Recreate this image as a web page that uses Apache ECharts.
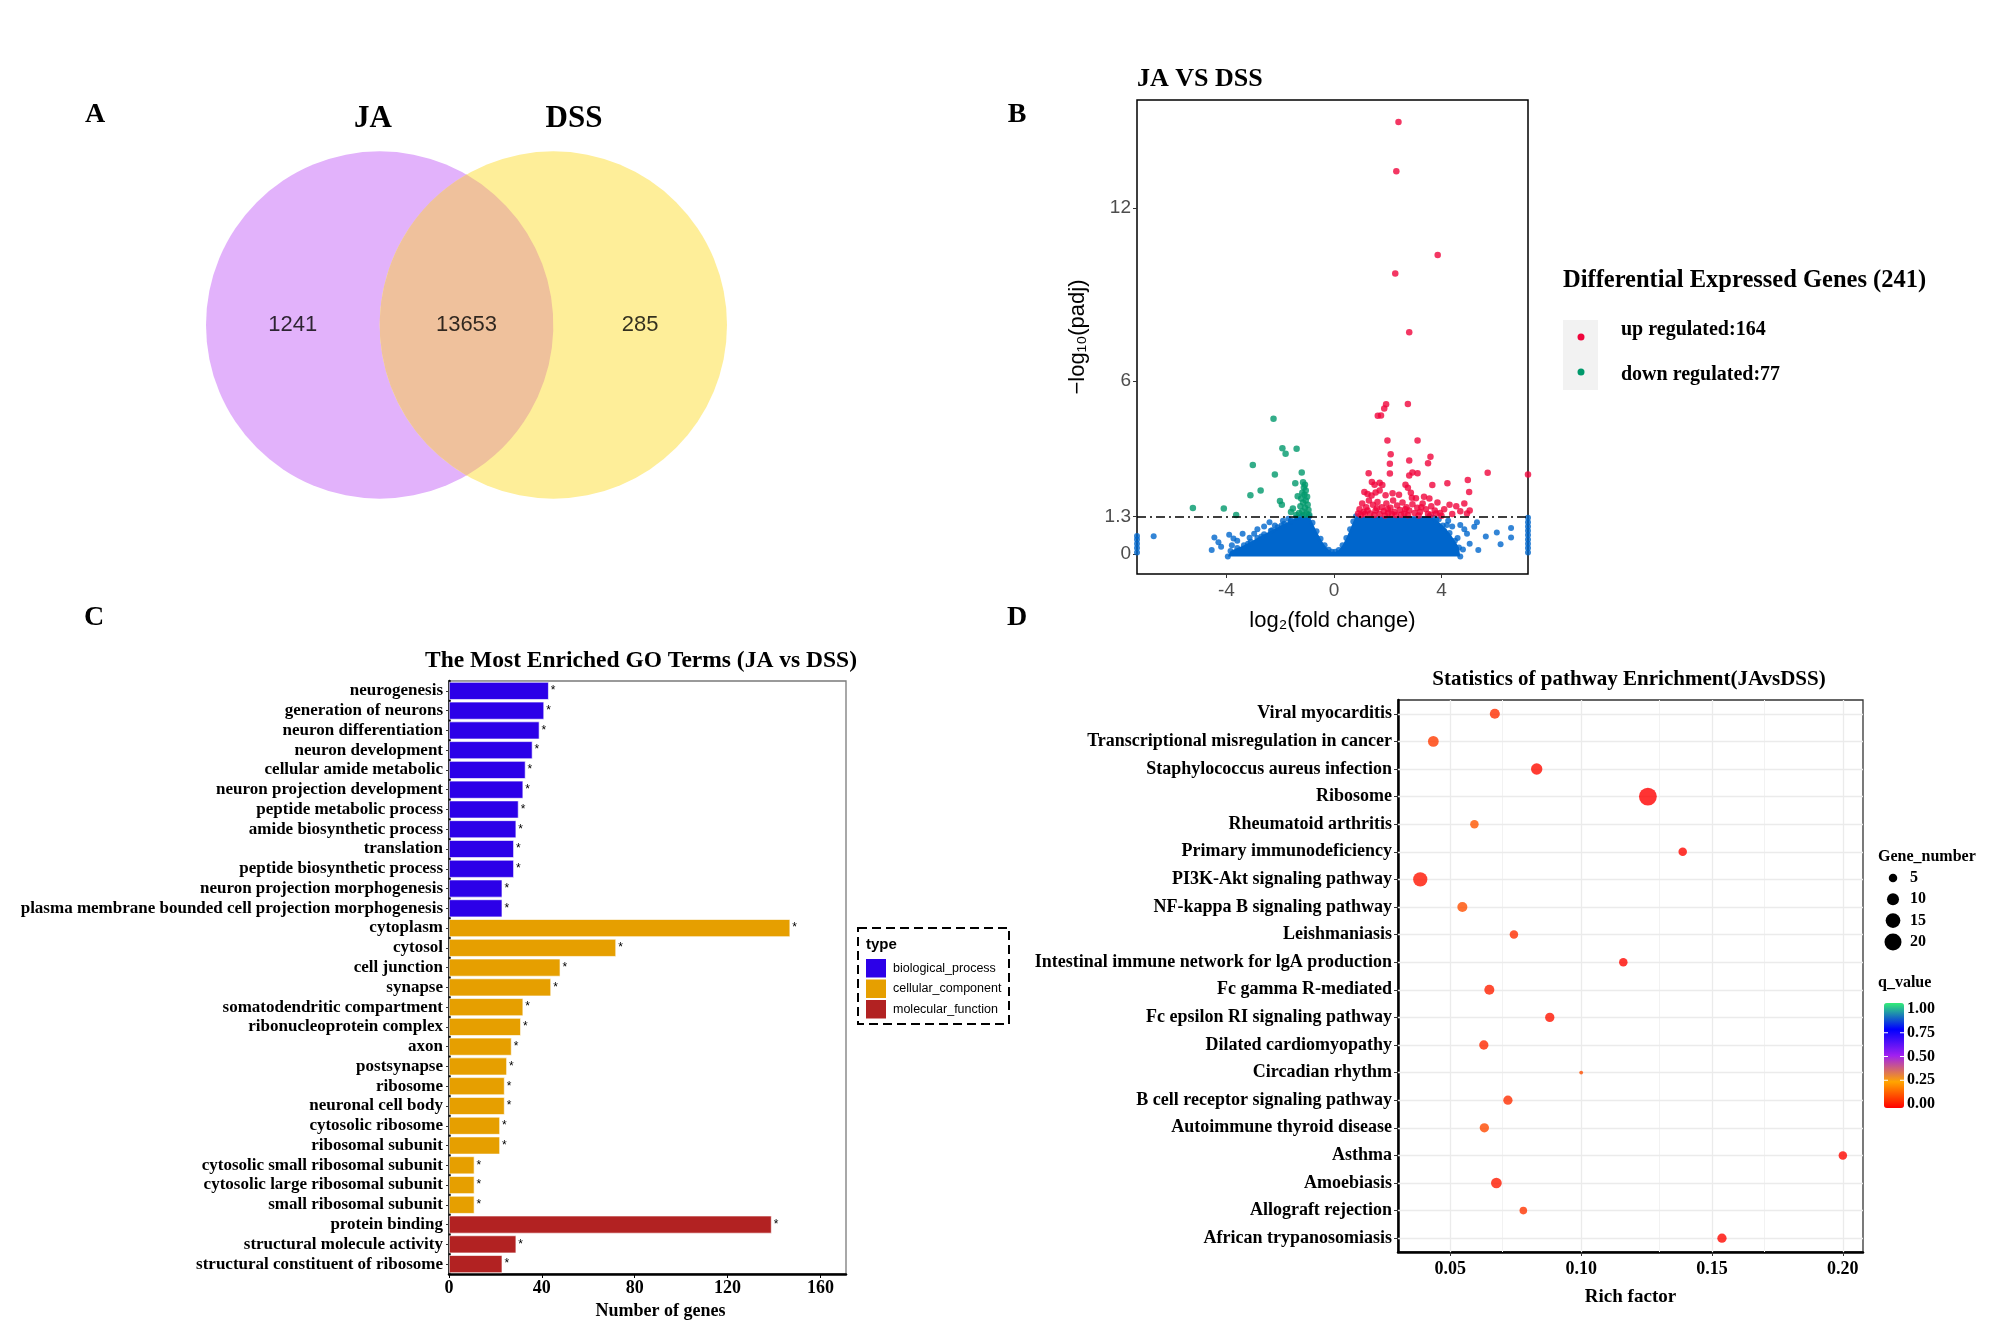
<!DOCTYPE html>
<html><head><meta charset="utf-8">
<script src="https://cdn.jsdelivr.net/npm/echarts@6.0.0/dist/echarts.min.js"></script>
<style>html,body{margin:0;padding:0;background:#fff}#c{width:2008px;height:1339px}</style>
</head><body><div id="c"></div>
<script>
// ---------------- DATA ----------------
// Panel A – Venn
const vennSetNames = ['JA', 'DSS'];
const vennCenterX = [-0.5, 0.5];
const vennRadius = 1;
const vennRegionCounts = [1241, 13653, 285];
const vennRegionX = [-1.0, 0, 1.0];

// Panel B – volcano (log2FC, -log10 padj)
const volcanoXTicks = [-4, 0, 4];
const volcanoYTicks = [0, 1.3, 6, 12];
const padjThreshold = 1.3;
const degCounts = [164, 77];
const upGenes = [
 [2.40,14.99],[2.32,13.28],[3.86,10.37],[2.28,9.73],[2.80,7.69],[2.75,5.20],[1.94,5.19],[1.87,5.04],[1.75,4.80],[1.63,4.79],
 [1.99,3.93],[3.11,3.93],[2.11,3.46],[3.59,3.37],[2.80,3.24],[3.50,3.14],[2.08,3.13],[1.29,2.80],[2.08,2.79],[2.92,2.82],
 [3.11,2.80],[2.80,2.72],[5.72,2.81],[7.22,2.75],[1.41,2.49],[1.51,2.40],[1.70,2.47],[1.80,2.39],[2.66,2.40],[2.75,2.29],
 [3.66,2.39],[4.22,2.45],[4.98,2.56],[5.03,2.15],[1.13,2.15],[1.25,2.08],[1.40,2.02],[1.70,2.20],[1.92,2.03],[2.18,2.10],
 [2.42,2.05],[2.86,2.12],[2.90,1.95],[3.05,1.93],[3.35,1.98],[3.55,1.92],[1.55,2.13],[0.95,1.55],[1.05,1.75],[1.10,1.45],
 [1.20,1.62],[1.30,1.85],[1.35,1.40],[1.45,1.70],[1.55,1.50],[1.62,1.80],[1.70,1.38],[1.78,1.62],[1.85,1.48],[1.95,1.75],
 [2.02,1.42],[2.10,1.60],[2.20,1.85],[2.25,1.45],[2.35,1.68],[2.45,1.52],[2.55,1.78],[2.62,1.40],[2.70,1.62],[2.80,1.50],
 [2.92,1.72],[3.00,1.42],[3.10,1.60],[3.20,1.45],[3.30,1.75],[3.42,1.55],[3.50,1.38],[3.62,1.65],[3.75,1.50],[3.85,1.78],
 [3.95,1.42],[4.10,1.55],[4.30,1.70],[4.55,1.65],[4.70,1.48],[4.85,1.75],[4.95,1.40],[5.05,1.50],[1.00,1.35],[1.15,1.38],
 [1.50,1.35],[1.90,1.33],[2.30,1.35],[2.75,1.34],[3.15,1.33],[3.60,1.36],[4.00,1.32],[4.40,1.38],[0.90,1.40],[2.00,1.55],
 [2.50,1.36],[1.25,1.50],[1.60,1.58],[2.15,1.38],[2.65,1.55],[3.25,1.62],[3.80,1.40]
];
const downGenes = [
 [-2.25,4.69],[-1.92,3.66],[-1.80,3.47],[-1.39,3.65],[-3.02,3.08],[-2.20,2.75],[-1.20,2.82],[-2.73,2.20],[-3.11,2.03],[-1.44,2.45],
 [-1.15,2.48],[-1.08,2.40],[-1.12,2.30],[-1.05,2.20],[-1.18,2.12],[-1.10,2.05],[-1.00,1.98],[-1.22,1.92],[-1.05,1.85],[-1.15,1.78],
 [-0.98,1.70],[-1.25,1.65],[-1.08,1.60],[-0.95,1.52],[-1.18,1.48],[-1.30,1.42],[-1.02,1.40],[-0.92,1.35],[-1.12,1.35],[-1.40,1.35],
 [-2.01,1.83],[-1.94,1.70],[-5.25,1.59],[-4.10,1.57],[-3.64,1.35],[-1.53,1.57],[-1.60,1.45],[-1.35,2.00]
];
const nsGenesScattered = [
 [-7.33,0.05],[-7.33,0.2],[-7.33,0.35],[-7.33,0.5],[-7.33,0.62],[-6.71,0.61],[-4.55,0.13],[-4.45,0.57],[-4.30,0.40],[-4.20,0.25],
 [-3.90,0.66],[-3.74,0.53],[-3.80,0.30],[-3.60,0.45],[-3.40,0.70],[-3.14,0.56],[-2.97,0.70],[-2.85,0.85],[-2.60,0.95],[-2.40,1.10],
 [-2.20,0.98],[-1.90,1.15],[-1.70,1.22],[-3.2,0.35],[-2.7,0.60],[-2.3,0.82],[-1.95,0.98],[-1.6,1.12],
 [5.37,0.13],[5.22,0.94],[5.32,1.10],[5.65,0.60],[6.06,0.74],[6.20,0.33],[6.59,0.90],[6.59,0.57],[4.70,1.00],[4.85,0.85],
 [4.60,0.55],[4.95,0.70],[5.05,0.35],[4.40,0.95],[4.25,1.15],[4.10,0.80],[4.50,0.20],[4.80,0.15],[3.70,1.25],[3.90,1.20],[4.20,1.00],
 [7.22,0.05],[7.22,0.2],[7.22,0.35],[7.22,0.5],[7.22,0.65],[7.22,0.8],[7.22,0.95],[7.22,1.1],[7.22,1.25]
];
const nsDenseOutline = [
 [-3.95,-0.09],[-3.85,0.10],[-3.6,0.20],[-3.35,0.30],[-3.1,0.42],[-2.85,0.55],[-2.6,0.68],[-2.35,0.80],[-2.1,0.92],[-1.85,1.04],
 [-1.6,1.16],[-1.4,1.26],[-1.2,1.30],[-0.92,1.30],[-0.80,1.08],[-0.65,0.78],[-0.5,0.52],[-0.35,0.30],[-0.2,0.14],[-0.08,0.07],
 [0.05,0.07],[0.18,0.13],[0.32,0.30],[0.46,0.55],[0.6,0.85],[0.72,1.12],[0.82,1.30],[3.55,1.30],[3.8,1.18],[4.05,0.98],
 [4.3,0.72],[4.5,0.45],[4.65,0.22],[4.7,-0.09]
];

// Panel C – GO terms
const goTerms = ['neurogenesis','generation of neurons','neuron differentiation','neuron development','cellular amide metabolic',
 'neuron projection development','peptide metabolic process','amide biosynthetic process','translation','peptide biosynthetic process',
 'neuron projection morphogenesis','plasma membrane bounded cell projection morphogenesis','cytoplasm','cytosol','cell junction',
 'synapse','somatodendritic compartment','ribonucleoprotein complex','axon','postsynapse','ribosome','neuronal cell body',
 'cytosolic ribosome','ribosomal subunit','cytosolic small ribosomal subunit','cytosolic large ribosomal subunit',
 'small ribosomal subunit','protein binding','structural molecule activity','structural constituent of ribosome'];
const goCounts = [43,41,39,36,33,32,30,29,28,28,23,23,147,72,48,44,32,31,27,25,24,24,22,22,11,11,11,139,29,23];
const goTypeNames = ['biological_process','cellular_component','molecular_function'];
const goTermType = [0,0,0,0,0,0,0,0,0,0,0,0, 1,1,1,1,1,1,1,1,1,1,1,1,1,1,1, 2,2,2];
const goXTicks = [0,40,80,120,160];

// Panel D – KEGG enrichment
const pathways = ['Viral myocarditis','Transcriptional misregulation in cancer','Staphylococcus aureus infection','Ribosome',
 'Rheumatoid arthritis','Primary immunodeficiency','PI3K-Akt signaling pathway','NF-kappa B signaling pathway','Leishmaniasis',
 'Intestinal immune network for lgA production','Fc gamma R-mediated','Fc epsilon RI signaling pathway','Dilated cardiomyopathy',
 'Circadian rhythm','B cell receptor signaling pathway','Autoimmune thyroid disease','Asthma','Amoebiasis','Allograft rejection',
 'African trypanosomiasis'];
const richFactor = [0.067,0.0435,0.083,0.1255,0.0592,0.1388,0.0385,0.0546,0.0743,0.1161,0.0649,0.088,0.0628,0.100,0.072,0.063,0.200,0.0676,0.0779,0.1538];
const geneNumber = [7,8,9,22,5,5,14,7,5,5,7,6,6,1,6,6,5,8,4,6];
const qValue = [0.07,0.09,0.02,0.0,0.13,0.01,0.03,0.12,0.07,0.01,0.05,0.03,0.06,0.12,0.07,0.11,0.01,0.04,0.08,0.01];
const richTicks = [0.05,0.10,0.15,0.20];
const richMinorTicks = [0.075,0.125,0.175];
const geneLegendValues = [5,10,15,20];
const qLegendValues = [1.00,0.75,0.50,0.25,0.00];

// ---------------- STYLE ----------------
const SERIF = "'Liberation Serif','Times New Roman',serif";
const SANS = "'Liberation Sans',Arial,sans-serif";
const NARROW = "'Liberation Sans Narrow','Liberation Sans',Arial,sans-serif";
const VENN_COLORS = ['#E2B2FB', '#FEEE99', '#EFC19C'];
const C_UP = '#F0053C', C_DOWN = '#00996B', C_NS = '#0066CC';
const GO_COLORS = ['#2C00E8', '#E69F00', '#B22222'];
const Q_COLORS = ['#FF0000', '#FFA500', '#A020F0', '#0000FF', '#33EE77'];
const sizeOf = n => 3.8 * Math.sqrt(n);

function T(x, y, text, font, align, valign, fill) {
  return {type: 'text', x: x, y: y, silent: true, z: 50,
    style: {text: text, font: font, fill: fill || '#000', align: align || 'left', verticalAlign: valign || 'middle',
            textAlign: align || 'left', textVerticalAlign: valign || 'middle'}};
}

const graphics = [];
// panel letters and titles
graphics.push(T(95, 115, 'A', 'bold 28px ' + SERIF, 'center'));
graphics.push(T(1017, 115, 'B', 'bold 28px ' + SERIF, 'center'));
graphics.push(T(94, 618, 'C', 'bold 28px ' + SERIF, 'center'));
graphics.push(T(1017, 618, 'D', 'bold 28px ' + SERIF, 'center'));
graphics.push(T(373, 119, vennSetNames[0], 'bold 31px ' + SERIF, 'center'));
graphics.push(T(574, 119, vennSetNames[1], 'bold 31px ' + SERIF, 'center'));
graphics.push(T(1137, 79, 'JA VS DSS', 'bold 26px ' + SERIF, 'left'));
graphics.push(T(641, 661, 'The Most Enriched GO Terms (JA vs DSS)', 'bold 23.5px ' + SERIF, 'center'));
graphics.push(T(1629, 680, 'Statistics of pathway Enrichment(JAvsDSS)', 'bold 21px ' + SERIF, 'center'));

// volcano legend
graphics.push(T(1563, 281, 'Differential Expressed Genes (' + (degCounts[0] + degCounts[1]) + ')', 'bold 24.5px ' + SERIF, 'left'));
graphics.push({type: 'rect', shape: {x: 1563, y: 320, width: 35, height: 70}, style: {fill: '#F2F2F2'}, silent: true});
graphics.push({type: 'circle', shape: {cx: 1581, cy: 337, r: 3.5}, style: {fill: C_UP}, silent: true});
graphics.push({type: 'circle', shape: {cx: 1581, cy: 372, r: 3.5}, style: {fill: C_DOWN}, silent: true});
graphics.push(T(1621, 330, 'up regulated:' + degCounts[0], 'bold 20px ' + SERIF, 'left'));
graphics.push(T(1621, 375, 'down regulated:' + degCounts[1], 'bold 20px ' + SERIF, 'left'));

// GO legend
graphics.push({type: 'rect', shape: {x: 858, y: 928, width: 151, height: 96},
  style: {fill: 'none', stroke: '#000', lineWidth: 2, lineDash: [9, 5]}, silent: true});
graphics.push(T(866, 945, 'type', 'bold 15px ' + SANS, 'left'));
goTypeNames.forEach((nm, i) => {
  graphics.push({type: 'rect', shape: {x: 866, y: 959 + i * 20.5, width: 20, height: 18.5}, style: {fill: GO_COLORS[i]}, silent: true});
  graphics.push(T(893, 968.5 + i * 20.5, nm, '12.5px ' + SANS, 'left'));
});

// Gene_number legend
graphics.push(T(1878, 857, 'Gene_number', 'bold 16px ' + SERIF, 'left'));
geneLegendValues.forEach((v, i) => {
  const y = 878 + i * 21.3;
  graphics.push({type: 'circle', shape: {cx: 1893, cy: y, r: sizeOf(v) / 2}, style: {fill: '#000'}, silent: true});
  graphics.push(T(1910, y, String(v), 'bold 16px ' + SERIF, 'left'));
});
// q_value legend labels
graphics.push(T(1878, 983, 'q_value', 'bold 16px ' + SERIF, 'left'));
qLegendValues.forEach(v => {
  const y = 1104 - v * 95;
  graphics.push(T(1907, y, v.toFixed(2), 'bold 16px ' + SERIF, 'left'));
  if (v > 0 && v < 1) graphics.push({type: 'line', shape: {x1: 1884, y1: y, x2: 1888, y2: y}, style: {stroke: '#fff', lineWidth: 1}, silent: true, z: 60});
  if (v > 0 && v < 1) graphics.push({type: 'line', shape: {x1: 1900, y1: y, x2: 1904, y2: y}, style: {stroke: '#fff', lineWidth: 1}, silent: true, z: 60});
});

// ---------------- CHART ----------------
const chart = echarts.init(document.getElementById('c'), null, {renderer: 'canvas'});

const hiddenAxis = (g, min, max) => ({gridIndex: g, type: 'value', min: min, max: max, show: false});

const option = {
  animation: false,
  backgroundColor: '#fff',
  textStyle: {fontFamily: SERIF},
  graphic: graphics,
  grid: [
    {left: 206, top: 151, width: 521, height: 348, show: false, outerBoundsMode: 'none'},
    {left: 1137, top: 100, width: 391, height: 474, show: true, borderColor: '#000', borderWidth: 1.5, backgroundColor: '#fff', outerBoundsMode: 'none'},
    {left: 449, top: 681, width: 397, height: 593, show: true, borderColor: '#7A7A7A', borderWidth: 1.3, backgroundColor: '#fff', outerBoundsMode: 'none'},
    {left: 1398, top: 700, width: 465, height: 552, show: true, borderColor: '#333', borderWidth: 1.3, backgroundColor: '#fff', outerBoundsMode: 'none'}
  ],
  xAxis: [
    hiddenAxis(0, -1.5, 1.5),
    {gridIndex: 1, type: 'value', min: -7.33, max: 7.22,
     axisLine: {show: false, onZero: false}, splitLine: {show: false},
     axisTick: {show: true, length: 4, customValues: volcanoXTicks, lineStyle: {color: '#333', width: 1}},
     axisLabel: {customValues: volcanoXTicks, fontSize: 19, color: '#4D4D4D', margin: 7, fontFamily: NARROW},
     name: 'log\u2082(fold change)', nameLocation: 'middle', nameGap: 36,
     nameTextStyle: {fontSize: 22, color: '#000', fontFamily: NARROW}},
    {gridIndex: 2, type: 'value', min: 0, max: 171,
     axisLine: {show: true, onZero: false, lineStyle: {color: '#000', width: 2.5}}, splitLine: {show: false},
     axisTick: {show: true, length: 4, customValues: goXTicks, lineStyle: {color: '#000', width: 1}},
     axisLabel: {customValues: goXTicks, fontSize: 18, fontWeight: 'bold', color: '#000', margin: 5, fontFamily: SERIF},
     name: 'Number of genes', nameLocation: 'middle', nameGap: 28,
     nameTextStyle: {fontSize: 18, fontWeight: 'bold', color: '#000', fontFamily: SERIF, padding: [0, 0, 0, 26]}},
    {gridIndex: 3, type: 'value', min: 0.030, max: 0.2077,
     axisLine: {show: true, onZero: false, lineStyle: {color: '#000', width: 2.5}}, splitLine: {show: false},
     axisTick: {show: true, length: 4, customValues: richTicks, lineStyle: {color: '#333', width: 1}},
     axisLabel: {customValues: richTicks, formatter: v => v.toFixed(2), fontSize: 18, fontWeight: 'bold', color: '#000', margin: 8, fontFamily: SERIF},
     name: 'Rich factor', nameLocation: 'middle', nameGap: 36,
     nameTextStyle: {fontSize: 19, fontWeight: 'bold', color: '#000', fontFamily: SERIF}}
  ],
  yAxis: [
    hiddenAxis(0, -1, 1),
    {gridIndex: 1, type: 'value', min: -0.7, max: 15.75,
     axisLine: {show: false, onZero: false}, splitLine: {show: false},
     axisTick: {show: true, length: 4, customValues: volcanoYTicks, lineStyle: {color: '#333', width: 1}},
     axisLabel: {customValues: volcanoYTicks, fontSize: 19, color: '#4D4D4D', margin: 6, fontFamily: NARROW},
     name: '\u2212log\u2081\u2080(padj)', nameLocation: 'middle', nameGap: 48, nameRotate: 90,
     nameTextStyle: {fontSize: 22, color: '#000', fontFamily: NARROW}},
    {gridIndex: 2, type: 'category', data: goTerms, inverse: true,
     axisLine: {show: true, onZero: false, lineStyle: {color: '#000', width: 2.5}}, splitLine: {show: false},
     axisTick: {show: true, length: 3, alignWithLabel: true, lineStyle: {color: '#333', width: 1}},
     axisLabel: {interval: 0, fontSize: 17, fontWeight: 'bold', color: '#000', margin: 6, fontFamily: SERIF}},
    {gridIndex: 3, type: 'category', data: pathways, inverse: true,
     axisLine: {show: true, onZero: false, lineStyle: {color: '#000', width: 2.5}}, splitLine: {show: false},
     axisTick: {show: true, length: 4, alignWithLabel: true, lineStyle: {color: '#333', width: 1}},
     axisLabel: {interval: 0, fontSize: 18, fontWeight: 'bold', color: '#000', margin: 6, fontFamily: SERIF}}
  ],
  visualMap: [{
    type: 'continuous', seriesIndex: 8, dimension: 3, min: 0, max: 1,
    inRange: {color: Q_COLORS}, calculable: false, show: true, realtime: false,
    orient: 'vertical', left: 1884, top: 1003, itemWidth: 20, itemHeight: 105, padding: 0,
    text: null, showLabel: false, hoverLink: false, borderWidth: 0
  }],
  series: [
    // 0 Venn circles
    {type: 'custom', xAxisIndex: 0, yAxisIndex: 0, silent: true, z: 2,
     data: [[0, 0]],
     renderItem: function (params, api) {
       const c1 = api.coord([vennCenterX[0], 0]);
       const c2 = api.coord([vennCenterX[1], 0]);
       const r = api.size([vennRadius, 0])[0];
       const d = c2[0] - c1[0];
       const mx = (c1[0] + c2[0]) / 2;
       const h = Math.sqrt(r * r - d * d / 4);
       const lens = 'M ' + mx + ' ' + (c1[1] - h) + ' A ' + r + ' ' + r + ' 0 0 1 ' + mx + ' ' + (c1[1] + h) +
                    ' A ' + r + ' ' + r + ' 0 0 1 ' + mx + ' ' + (c1[1] - h) + ' Z';
       return {type: 'group', children: [
         {type: 'circle', shape: {cx: c1[0], cy: c1[1], r: r}, style: {fill: VENN_COLORS[0]}},
         {type: 'circle', shape: {cx: c2[0], cy: c2[1], r: r}, style: {fill: VENN_COLORS[1]}},
         {type: 'path', shape: {pathData: lens}, style: {fill: VENN_COLORS[2]}}
       ]};
     }},
    // 1 Venn counts
    {type: 'scatter', xAxisIndex: 0, yAxisIndex: 0, silent: true, z: 5, symbolSize: 1,
     itemStyle: {color: 'rgba(0,0,0,0)'},
     data: vennRegionX.map((x, i) => [x, 0, vennRegionCounts[i]]),
     label: {show: true, position: 'inside', formatter: p => String(p.value[2]), fontSize: 22, color: '#000', fontFamily: NARROW}},
    // 2 dense non-significant cloud
    {type: 'custom', xAxisIndex: 1, yAxisIndex: 1, silent: true, z: 2, data: [[0, 0]],
     renderItem: function (params, api) {
       return {type: 'polygon', shape: {points: nsDenseOutline.map(p => api.coord(p))}, style: {fill: C_NS}};
     }},
    // 3 non-significant points
    {type: 'scatter', xAxisIndex: 1, yAxisIndex: 1, silent: true, z: 3, symbolSize: 6,
     itemStyle: {color: C_NS}, data: nsGenesScattered.concat(nsDenseOutline)},
    // 4 up
    {type: 'scatter', xAxisIndex: 1, yAxisIndex: 1, silent: true, z: 4, symbolSize: 6.5,
     itemStyle: {color: C_UP}, data: upGenes},
    // 5 down + threshold
    {type: 'scatter', xAxisIndex: 1, yAxisIndex: 1, silent: true, z: 4, symbolSize: 6.5,
     itemStyle: {color: C_DOWN}, data: downGenes,
     markLine: {silent: true, z: 6, symbol: ['none', 'none'], label: {show: false}, animation: false,
       lineStyle: {color: '#000', width: 1.5, type: [9, 4, 2, 4]}, data: [{yAxis: padjThreshold}]}},
    // 6 GO bars
    {type: 'bar', xAxisIndex: 2, yAxisIndex: 2, silent: true, z: 3, barCategoryGap: '9%',
     data: goCounts.map((v, i) => ({value: v, itemStyle: {color: GO_COLORS[goTermType[i]]}})),
     itemStyle: {borderColor: 'rgba(255,255,255,0.8)', borderWidth: 0.8},
     label: {show: true, position: 'right', formatter: '*', distance: 2, fontSize: 12, color: '#000', fontFamily: SANS}},
    // 7 bubble chart grid lines
    {type: 'line', xAxisIndex: 3, yAxisIndex: 3, silent: true, z: 1, data: [],
     markLine: {silent: true, z: 1, symbol: ['none', 'none'], label: {show: false}, animation: false,
       lineStyle: {color: '#EBEBEB', width: 1.3, type: 'solid'},
       data: richTicks.map(v => ({xAxis: v}))
         .concat(richMinorTicks.map(v => ({xAxis: v, lineStyle: {color: '#F2F2F2', width: 1}})))
         .concat(pathways.map(p => ({yAxis: p})))}},
    // 8 bubbles
    {type: 'scatter', xAxisIndex: 3, yAxisIndex: 3, silent: true, z: 4,
     data: pathways.map((p, i) => [richFactor[i], p, geneNumber[i], qValue[i]]),
     encode: {x: 0, y: 1},
     symbolSize: v => sizeOf(v[2])}
  ]
};
chart.setOption(option);
</script></body></html>
